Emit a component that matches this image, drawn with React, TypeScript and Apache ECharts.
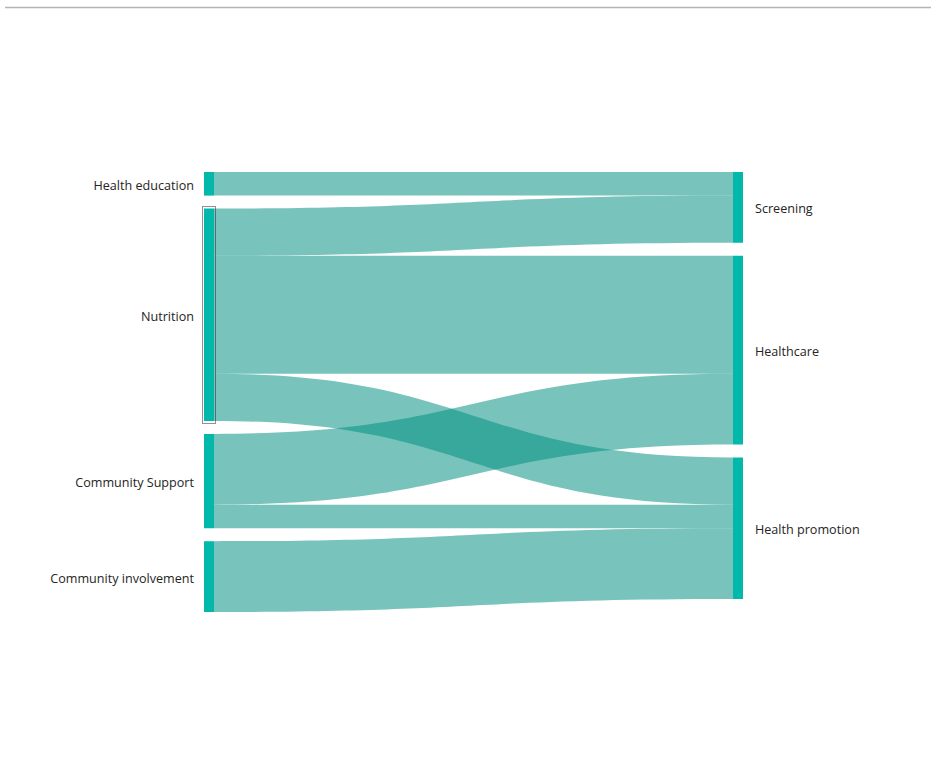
import React, { useEffect, useRef } from "react";
import * as echarts from "echarts";

const sourceNodes = ["Health education", "Nutrition", "Community Support", "Community involvement"];
const targetNodes = ["Screening", "Healthcare", "Health promotion"];

const linkSources = ["Health education", "Nutrition", "Nutrition", "Nutrition", "Community Support", "Community Support", "Community involvement"];
const linkTargets = ["Screening", "Screening", "Healthcare", "Health promotion", "Healthcare", "Health promotion", "Health promotion"];
const linkValues = [10, 20, 50, 20, 30, 10, 30];

export default function App() {
  const ref = useRef<HTMLDivElement>(null);
  useEffect(() => {
    if (!ref.current) return;
    const chart = echarts.init(ref.current, undefined, { renderer: "svg" });
    const labelBase = {
      fontFamily: "'Open Sans', sans-serif",
      fontSize: 12.6,
      color: "#252423",
      offset: [0, 1.5],
    };
    const data = [
      ...sourceNodes.map((n) => ({
        name: n,
        label: { ...labelBase, position: "left", distance: 10 },
      })),
      ...targetNodes.map((n) => ({
        name: n,
        label: { ...labelBase, position: "right", distance: 12 },
      })),
    ];
    const links = linkSources.map((s, i) => ({
      source: s,
      target: linkTargets[i],
      value: linkValues[i],
    }));
    chart.setOption({
      animation: false,
      backgroundColor: "#ffffff",
      graphic: [
        {
          type: "line",
          shape: { x1: 5, y1: 7.5, x2: 931, y2: 7.5 },
          style: { stroke: "#b4b4b4", lineWidth: 1.5 },
          silent: true,
        },
        {
          type: "rect",
          shape: { x: 202.5, y: 206.5, width: 13, height: 217 },
          style: { fill: "none", stroke: "#222", lineWidth: 1, lineDash: [1, 1] },
          silent: true,
          z: 100,
        },
      ],
      series: [
        {
          type: "sankey",
          left: 204,
          right: 188,
          top: 172,
          bottom: 154,
          nodeWidth: 10,
          nodeGap: 13,
          layoutIterations: 0,
          draggable: false,
          itemStyle: { color: "#01B8AA", borderWidth: 0 },
          lineStyle: { color: "rgb(0,144,129)", opacity: 0.53, curveness: 0.5 },
          emphasis: { disabled: true },
          data,
          links,
        },
      ],
    });
    return () => chart.dispose();
  }, []);
  return (
    <div
      ref={ref}
      style={{ position: "absolute", left: 0, top: 0, width: 931, height: 766 }}
    />
  );
}
